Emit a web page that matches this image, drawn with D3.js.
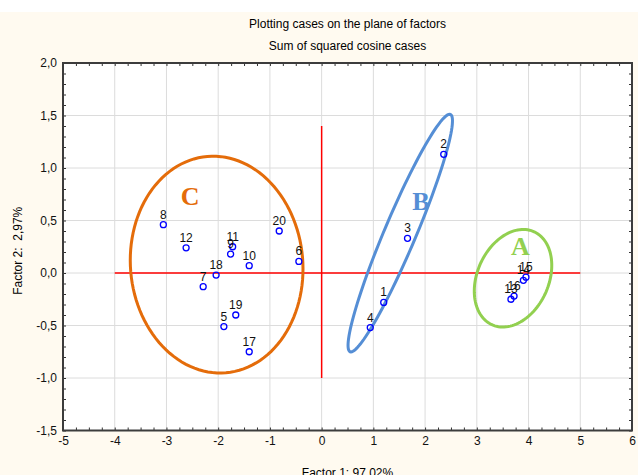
<!DOCTYPE html>
<html>
<head>
<meta charset="utf-8">
<script src="https://cdn.jsdelivr.net/npm/d3@7"></script>
<style>
  body { margin: 0; background: #fff; }
  svg { display: block; }
  text { font-family: Arial, "Liberation Sans", sans-serif; }
</style>
</head>
<body>
<div id="chart"></div>
<script>
// cases plotted on the plane of the first two factors
const caseLabels = ["1", "2", "3", "4", "5", "6", "7", "8", "9", "10",
    "11", "12", "13", "14", "15", "16", "17", "18", "19", "20"];
const factor1 = [1.20, 2.36, 1.66, 0.94, -1.89, -0.44, -2.29, -3.06, -1.76, -1.40,
    -1.72, -2.62, 3.66, 3.90, 3.95, 3.72, -1.40, -2.04, -1.66, -0.82];
const factor2 = [-0.28, 1.13, 0.33, -0.52, -0.51, 0.11, -0.13, 0.46, 0.18, 0.07,
    0.25, 0.24, -0.25, -0.07, -0.04, -0.22, -0.75, -0.02, -0.40, 0.40];

// tick labels
const xTicks = [-5, -4, -3, -2, -1, 0, 1, 2, 3, 4, 5, 6];
const yTicks = [-1.5, -1.0, -0.5, 0.0, 0.5, 1.0, 1.5, 2.0];

// groups drawn as ellipses (centre and two half-axes, in factor units)
const groupNames = ["A", "B", "C"];
const groupCentres = [[3.70, -0.05], [1.52, 0.38], [-2.03, 0.08]];
const groupAxisU = [[0.42, 0.44], [0.97, 1.13], [1.66, 0.07]];
const groupAxisV = [[0.62, -0.15], [0.28, -0.06], [-0.18, 1.03]];
const groupLabelPos = [[3.84, 0.25], [1.92, 0.68], [-2.54, 0.73]];
const groupColours = ["#92d050", "#558ed5", "#e46c0a"];

// red reference lines through the origin
const hLineX = [-4, 5];
const vLineY = [-1.0, 1.4];

function drawFactorPlot() {
    const W = 638, H = 475;
    const margin = { top: 63, right: 6, bottom: 44.5, left: 63 },
        width = W - margin.left - margin.right,
        height = H - margin.top - margin.bottom;

    const root = d3.select("#chart").append("svg")
        .attr("width", W)
        .attr("height", H);

    // cream background below a thin white strip
    root.append("rect")
        .attr("x", 0).attr("y", 12)
        .attr("width", W).attr("height", H - 12)
        .attr("fill", "#fffaf0");

    root.append("text")
        .attr("x", margin.left + width / 2).attr("y", 28)
        .attr("text-anchor", "middle")
        .style("font-size", "12px")
        .text("Plotting cases on the plane of factors");
    root.append("text")
        .attr("x", margin.left + width / 2).attr("y", 50)
        .attr("text-anchor", "middle")
        .style("font-size", "12px")
        .text("Sum of squared cosine cases");

    const svg = root.append("g")
        .attr("transform", `translate(${margin.left},${margin.top})`);

    const x = d3.scaleLinear().domain([-5, 6]).range([0, width]);
    const y = d3.scaleLinear().domain([-1.5, 2.0]).range([height, 0]);

    svg.append("rect")
        .attr("width", width).attr("height", height)
        .attr("fill", "#fff");

    // grid
    svg.append("g")
        .selectAll("line.vx")
        .data(xTicks)
        .join("line")
        .attr("x1", d => x(d)).attr("x2", d => x(d))
        .attr("y1", 0).attr("y2", height)
        .attr("stroke", "#dcdcdc");
    svg.append("g")
        .selectAll("line.hy")
        .data(yTicks)
        .join("line")
        .attr("x1", 0).attr("x2", width)
        .attr("y1", d => y(d)).attr("y2", d => y(d))
        .attr("stroke", "#dcdcdc");

    // red lines
    svg.append("line")
        .attr("x1", x(hLineX[0])).attr("x2", x(hLineX[1]))
        .attr("y1", y(0)).attr("y2", y(0))
        .attr("stroke", "#ff0000").attr("stroke-width", 1.5);
    svg.append("line")
        .attr("x1", x(0)).attr("x2", x(0))
        .attr("y1", y(vLineY[0])).attr("y2", y(vLineY[1]))
        .attr("stroke", "#ff0000").attr("stroke-width", 1.5);

    // group ellipses
    const ellipse = d3.line()
        .x(d => x(d[0]))
        .y(d => y(d[1]))
        .curve(d3.curveLinearClosed);
    const steps = d3.range(0, 2 * Math.PI, Math.PI / 60);
    groupNames.forEach((g, i) => {
        const c = groupCentres[i], u = groupAxisU[i], v = groupAxisV[i];
        const pts = steps.map(t => [
            c[0] + Math.cos(t) * u[0] + Math.sin(t) * v[0],
            c[1] + Math.cos(t) * u[1] + Math.sin(t) * v[1]
        ]);
        svg.append("path")
            .attr("d", ellipse(pts))
            .attr("fill", "none")
            .attr("stroke", groupColours[i])
            .attr("stroke-width", 3);
        svg.append("text")
            .attr("x", x(groupLabelPos[i][0]))
            .attr("y", y(groupLabelPos[i][1]))
            .attr("text-anchor", "middle")
            .attr("dominant-baseline", "central")
            .attr("fill", groupColours[i])
            .style("font-family", "'Liberation Serif', 'Times New Roman', serif")
            .style("font-weight", "bold")
            .style("font-size", "26px")
            .text(g);
    });

    // points
    const cases = caseLabels.map((id, i) => ({ id, f1: factor1[i], f2: factor2[i] }));
    svg.append("g")
        .selectAll("circle")
        .data(cases)
        .join("circle")
        .attr("cx", d => x(d.f1))
        .attr("cy", d => y(d.f2))
        .attr("r", 3)
        .attr("fill", "none")
        .attr("stroke", "#0000ff")
        .attr("stroke-width", 1.3);
    svg.append("g")
        .selectAll("text")
        .data(cases)
        .join("text")
        .attr("x", d => x(d.f1))
        .attr("y", d => y(d.f2) - 6)
        .attr("text-anchor", "middle")
        .style("font-size", "12px")
        .attr("fill", "#111")
        .text(d => d.id);

    // minor ticks on all four sides
    const xMinor = d3.range(-20, 25).map(i => i / 4);
    const yMinor = d3.range(-15, 21).map(i => i / 10);
    const minor = (ax, vals) => ax.tickValues(vals).tickSize(-3).tickFormat("");
    [
        [d3.axisBottom(x), xMinor, `translate(0,${height})`],
        [d3.axisTop(x), xMinor, null],
        [d3.axisLeft(y), yMinor, null],
        [d3.axisRight(y), yMinor, `translate(${width},0)`]
    ].forEach(([ax, vals, tr]) => {
        const g = svg.append("g").call(minor(ax, vals));
        if (tr) g.attr("transform", tr);
        g.select(".domain").remove();
        g.selectAll("line").attr("stroke", "#333");
    });

    // tick labels
    const comma = d => d3.format(".1f")(d).replace(".", ",").replace("−", "-");
    const xAxis = svg.append("g")
        .attr("transform", `translate(0,${height})`)
        .call(d3.axisBottom(x).tickValues(xTicks).tickSize(0).tickPadding(6)
            .tickFormat(d => String(d)));
    const yAxis = svg.append("g")
        .call(d3.axisLeft(y).tickValues(yTicks).tickSize(0).tickPadding(6)
            .tickFormat(comma));
    [xAxis, yAxis].forEach(g => {
        g.select(".domain").remove();
        g.selectAll("text").style("font-size", "12px").attr("fill", "#111")
            .style("font-family", "Arial, 'Liberation Sans', sans-serif");
    });

    // frame
    svg.append("rect")
        .attr("width", width).attr("height", height)
        .attr("fill", "none")
        .attr("stroke", "#3c3c3c")
        .attr("stroke-width", 2);

    // axis titles
    root.append("text")
        .attr("x", margin.left + width / 2).attr("y", 477)
        .attr("text-anchor", "middle")
        .style("font-size", "12px")
        .text("Factor 1: 97,02%");
    root.append("text")
        .attr("transform", `translate(22,${margin.top + height / 2 + 4}) rotate(-90)`)
        .attr("text-anchor", "middle")
        .style("font-size", "12px")
        .style("white-space", "pre")
        .text("Factor 2:  2,97%");
}

drawFactorPlot();
</script>
</body>
</html>
